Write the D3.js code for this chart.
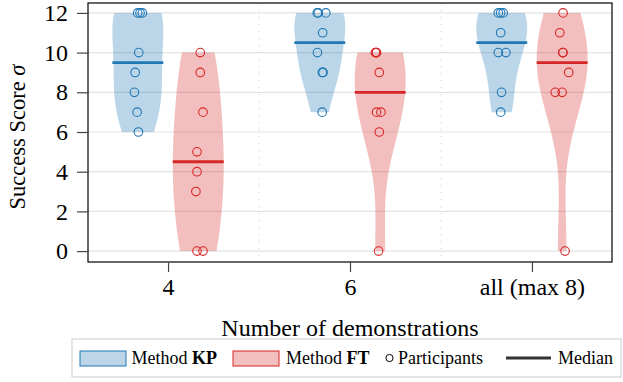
<!DOCTYPE html>
<html><head><meta charset="utf-8">
<script src="https://cdn.jsdelivr.net/npm/d3@7"></script>
<style>
body{margin:0;background:#fff}
svg{display:block}
svg text{font-family:"Liberation Serif","Times New Roman",Times,serif !important;fill:#000}
</style>
</head><body><svg id="chart" width="623" height="382"></svg>
<script>
// ---- data ----
const categories = ["4", "6", "all (max 8)"];
const methodNames = ["KP", "FT"];
const kpScores = [[12,12,12,10,9,8,7,6],[12,12,12,11,10,9,9,7],[12,12,12,11,10,10,8,7]];
const ftScores = [[10,9,7,5,4,3,0,0],[10,10,10,9,7,7,6,0],[12,11,10,10,9,8,8,0]];
// horizontal jitter of participant markers (fraction of category spacing)
const kpJitter = [[-0.001,0.012,0.025,0.005,-0.015,-0.019,-0.004,0.003],
                  [-0.014,-0.008,0.033,0.016,-0.013,0.014,0.018,0.013],
                  [-0.019,-0.006,0.008,-0.006,-0.019,0.023,-0.001,-0.006]];
const ftJitter = [[0.011,0.011,0.026,-0.007,-0.007,-0.013,-0.007,0.026],
                  [-0.027,-0.022,-0.020,-0.005,-0.020,0.004,-0.005,-0.009],
                  [0.005,-0.013,0.003,0.005,0.036,-0.038,0,0.016]];
const yTicks = [0,2,4,6,8,10,12];

// ---- layout ----
const FONT = "'Liberation Serif', 'Times New Roman', Times, serif";
const plot = {left: 88, right: 612, top: 3, bottom: 262};
const colors = {KP: "#1f77b4", FT: "#d62728"};
const fills = {KP: "#bcd6e8", FT: "#f3bebe"};
const dodge = 0.166, halfW = 0.14;

const svg = d3.select("#chart");
const x = d3.scaleLinear().domain([-0.44, 2.44]).range([plot.left, plot.right]);
const y = d3.scaleLinear().domain([-0.55, 12.5]).range([plot.bottom, plot.top]);

// grid
svg.append("g").selectAll("line").data(yTicks).join("line")
  .attr("x1", plot.left).attr("x2", plot.right)
  .attr("y1", d => y(d)).attr("y2", d => y(d))
  .attr("stroke", "#e3e3e3").attr("stroke-width", 1.2);
svg.append("g").selectAll("line").data([0.5, 1.5]).join("line")
  .attr("x1", d => x(d)).attr("x2", d => x(d))
  .attr("y1", plot.top).attr("y2", plot.bottom)
  .attr("stroke", "#d8d8d8").attr("stroke-width", 1.2).attr("stroke-dasharray", "1.2,5.8");

// KDE (gaussian, Scott's rule, cut at data range)
function kde(vals) {
  const n = vals.length, sd = d3.deviation(vals), bw = sd * Math.pow(n, -0.2);
  const lo = d3.min(vals), hi = d3.max(vals);
  const pts = d3.range(0, 121).map(i => {
    const v = lo + (hi - lo) * i / 120;
    const d = d3.sum(vals, s => Math.exp(-0.5 * ((v - s) / bw) ** 2));
    return {v, d};
  });
  const m = d3.max(pts, p => p.d);
  pts.forEach(p => p.d /= m);
  return pts;
}

const series = [
  {name: "KP", scores: kpScores, jitter: kpJitter, off: -dodge},
  {name: "FT", scores: ftScores, jitter: ftJitter, off: dodge}
];

const gV = svg.append("g");
series.forEach(s => {
  s.scores.forEach((vals, ci) => {
    const cx = ci + s.off;
    const dens = kde(vals);
    const area = d3.area()
      .y(p => y(p.v))
      .x0(p => x(cx - halfW * p.d))
      .x1(p => x(cx + halfW * p.d))
      .curve(d3.curveBasis);
    gV.append("path").datum(dens).attr("d", area)
      .attr("fill", colors[s.name]).attr("fill-opacity", 0.3).attr("stroke", "none");
  });
});
series.forEach(s => {
  s.scores.forEach((vals, ci) => {
    const cx = ci + s.off;
    const med = d3.median(vals);
    gV.append("line")
      .attr("x1", x(cx - halfW)).attr("x2", x(cx + halfW))
      .attr("y1", y(med)).attr("y2", y(med))
      .attr("stroke", colors[s.name]).attr("stroke-width", 2.8);
    gV.append("g").selectAll("circle").data(vals).join("circle")
      .attr("cx", (v, i) => x(cx + s.jitter[ci][i]))
      .attr("cy", v => y(v))
      .attr("r", 4.3)
      .attr("fill", "none").attr("stroke", colors[s.name]).attr("stroke-width", 1.1);
  });
});

// frame
svg.append("rect").attr("x", plot.left).attr("y", plot.top)
  .attr("width", plot.right - plot.left).attr("height", plot.bottom - plot.top)
  .attr("fill", "none").attr("stroke", "#000").attr("stroke-width", 1.2);

// axes
const yAxis = d3.axisLeft(y).tickValues(yTicks).tickSize(11).tickPadding(9).tickFormat(d3.format("d"));
const gy = svg.append("g").attr("transform", `translate(${plot.left},0)`).call(yAxis);
const xAxis = d3.axisBottom(x).tickValues([0,1,2]).tickSize(10).tickPadding(6).tickFormat(i => categories[i]);
const gx = svg.append("g").attr("transform", `translate(0,${plot.bottom})`).call(xAxis);
[gx, gy].forEach(g => {
  g.attr("font-family", null).attr("font-size", null);
  g.select(".domain").remove();
  g.selectAll(".tick line").attr("stroke", "#444").attr("stroke-width", 1.2);
  g.selectAll(".tick text").style("font-size", "24px").style("font-family", FONT).attr("fill", "#000");
});

// axis titles
svg.append("text").attr("x", 350).attr("y", 336).attr("text-anchor", "middle")
  .style("font-size", "24px").style("font-family", FONT).text("Number of demonstrations");
const yl = svg.append("text").attr("transform", "translate(25,137) rotate(-90)")
  .attr("text-anchor", "middle").style("font-size", "22.5px").style("font-family", FONT);
yl.append("tspan").text("Success Score ");
yl.append("tspan").attr("font-style", "italic").text("σ");

// legend
const lg = svg.append("g");
lg.append("rect").attr("x", 72).attr("y", 339).attr("width", 549).attr("height", 38)
  .attr("fill", "#fff").attr("stroke", "#cccccc").attr("stroke-width", 1);
const base = 363.5;
[{name: "KP", px: 80, tx: 131.5}, {name: "FT", px: 233, tx: 286}].forEach(it => {
  lg.append("rect").attr("x", it.px).attr("y", 351).attr("width", 46).attr("height", 15)
    .attr("fill", fills[it.name]).attr("stroke", colors[it.name]).attr("stroke-width", 1);
  const t = lg.append("text").attr("x", it.tx).attr("y", base).style("font-size", "18px").style("font-family", FONT);
  t.append("tspan").text("Method ");
  t.append("tspan").attr("font-weight", "bold").text(it.name);
});
lg.append("circle").attr("cx", 389.5).attr("cy", 358).attr("r", 3.6)
  .attr("fill", "none").attr("stroke", "#000").attr("stroke-width", 1);
lg.append("text").attr("x", 398).attr("y", base).style("font-size", "18px").style("font-family", FONT).text("Participants");
lg.append("line").attr("x1", 506).attr("x2", 551).attr("y1", 358).attr("y2", 358)
  .attr("stroke", "#333").attr("stroke-width", 3);
lg.append("text").attr("x", 558).attr("y", base).style("font-size", "18px").style("font-family", FONT).text("Median");
</script>
</body></html>
